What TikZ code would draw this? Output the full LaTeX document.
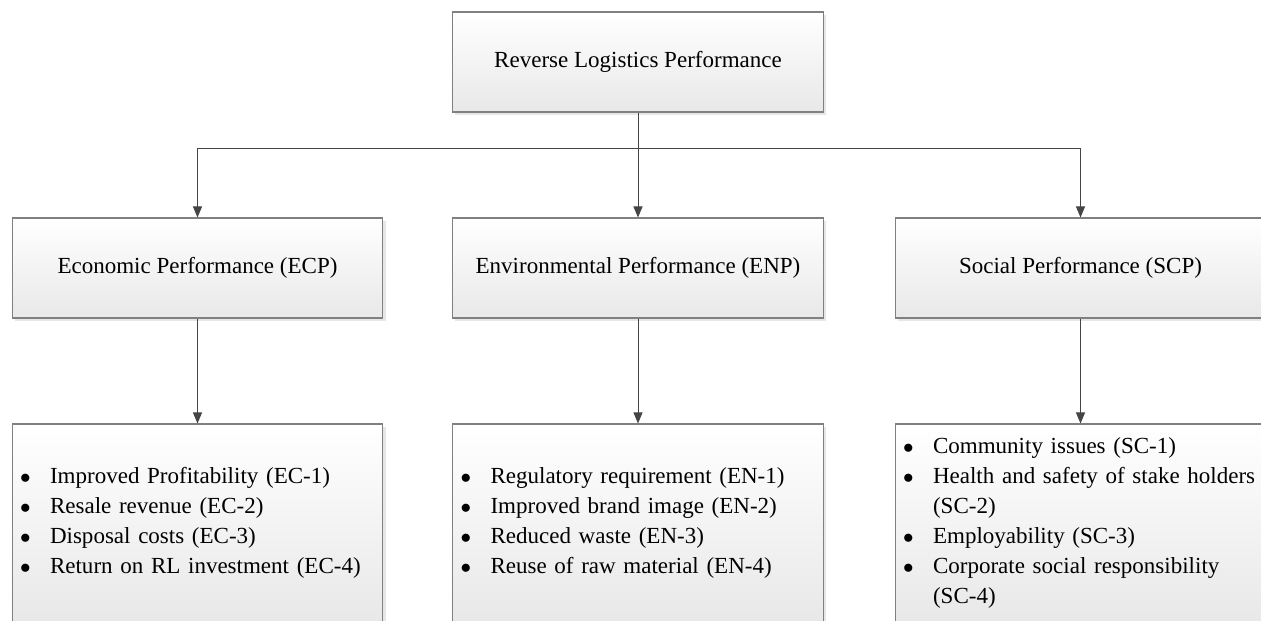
\documentclass[tikz,border=0pt]{standalone}
\usepackage{fontspec}
\setmainfont{Liberation Serif}
\usetikzlibrary{arrows.meta,shadows}
\definecolor{boxline}{rgb}{0.5,0.5,0.5}
\definecolor{linkgray}{rgb}{0.27,0.27,0.27}
\newcommand{\bul}[1]{\mbox{\makebox[0.6cm][l]{$\bullet$}#1}}
\newcommand{\cont}[1]{\mbox{\hspace*{0.6cm}#1}}

\begin{document}
\begin{tikzpicture}[x=0.02cm,y=-0.02cm,
  box/.style={draw=boxline,line width=0.6pt,top color=white,bottom color=black!9,
    drop shadow={shadow xshift=1.5pt,shadow yshift=-1.5pt,opacity=0.2},
    minimum width=7.42cm,minimum height=2cm,inner sep=0pt,
    font=\fontsize{13.1}{17}\selectfont},
  listbox/.style={box,minimum height=3.96cm,align=left,text width=7.1cm,inner xsep=0.16cm},
  conn/.style={draw=linkgray,line width=0.55pt},
  arr/.style={conn,-{Triangle[length=0.22cm,width=0.18cm,fill=linkgray]}}]
\clip (0,0) rectangle (1261,621);
\node[box] (rlp) at (638,62) {Reverse Logistics Performance};
\node[box] (ecp) at (197.5,268) {Economic Performance (ECP)};
\node[box] (enp) at (638,268) {Environmental Performance (ENP)};
\node[box] (scp) at (1080.5,268) {Social Performance (SCP)};
\node[listbox] (eclist) at (197.5,523) {\bul{Improved Profitability (EC-1)}\\
  \bul{Resale revenue (EC-2)}\\
  \bul{Disposal costs (EC-3)}\\
  \bul{Return on RL investment (EC-4)}};
\node[listbox] (enlist) at (638,523) {\bul{Regulatory requirement (EN-1)}\\
  \bul{Improved brand image (EN-2)}\\
  \bul{Reduced waste (EN-3)}\\
  \bul{Reuse of raw material (EN-4)}};
\node[listbox] (sclist) at (1080.5,523) {\bul{Community issues (SC-1)}\\
  \bul{Health and safety of stake holders}\\
  \cont{(SC-2)}\\
  \bul{Employability (SC-3)}\\
  \bul{Corporate social responsibility}\\
  \cont{(SC-4)}};
\coordinate (bus) at (638,148);
\draw[conn] (rlp.south) -- (bus);
\draw[arr] (bus) -| (ecp.north);
\draw[arr] (bus) -- (enp.north);
\draw[arr] (bus) -| (scp.north);
\draw[arr] (ecp.south) -- (eclist.north);
\draw[arr] (enp.south) -- (enlist.north);
\draw[arr] (scp.south) -- (sclist.north);
\end{tikzpicture}
\end{document}
